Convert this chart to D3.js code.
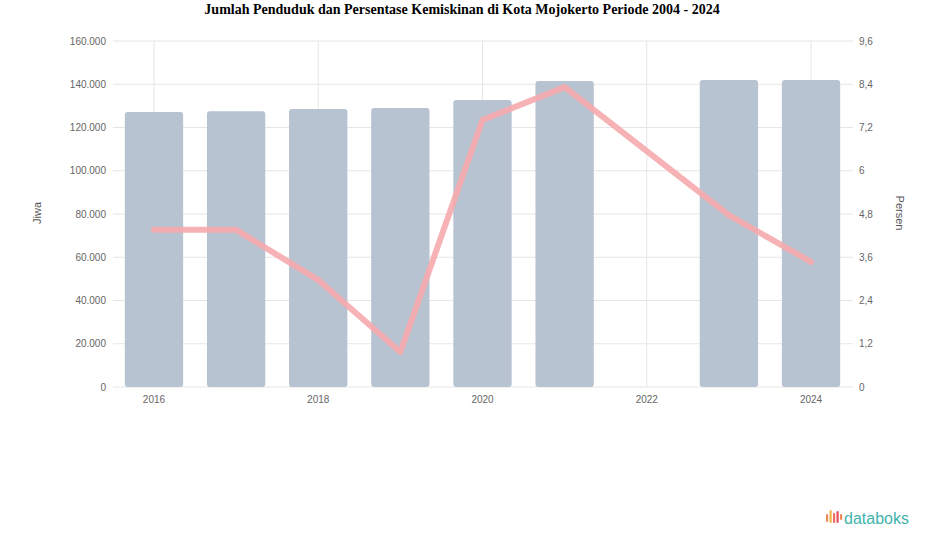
<!DOCTYPE html>
<html><head><meta charset="utf-8">
<script src="https://cdn.jsdelivr.net/npm/d3@7"></script>
<style>body{margin:0;background:#fff}svg{display:block}</style>
</head><body>
<svg id="c" width="925" height="547"></svg>
<script>
const years = ["2016","2017","2018","2019","2020","2021","2022","2023","2024"];
const population = [127200, 127500, 128500, 129000, 132700, 141500, null, 142000, 142000];
const poverty = [4.36, 4.36, 2.97, 0.97, 7.41, 8.32, null, 4.77, 3.47];
const leftTicks = [0,20000,40000,60000,80000,100000,120000,140000,160000];
const rightTicks = [0,1.2,2.4,3.6,4.8,6,7.2,8.4,9.6];
const labeledYears = ["2016","2018","2020","2022","2024"];

const svg = d3.select("#c");
const W=925,H=547;
const gx0=113, gx1=853;
const x = d3.scaleBand().domain(years).range([101, 864]).paddingInner(0.29).paddingOuter(0.29);
const yL = d3.scaleLinear().domain([0,160000]).range([387,41]);
const yR = d3.scaleLinear().domain([0,9.6]).range([387,41]);
const fmtL = d3.formatLocale({decimal:",",thousands:".",grouping:[3],currency:["",""]}).format(",");
const fmtR = v => String(v).replace(".",",");

// horizontal grid
svg.append("g").selectAll("line").data(leftTicks).join("line")
  .attr("x1",gx0).attr("x2",gx1).attr("y1",d=>yL(d)).attr("y2",d=>yL(d))
  .attr("stroke","#e6e6e6").attr("stroke-width",1);
// vertical grid
svg.append("g").selectAll("line").data(labeledYears).join("line")
  .attr("x1",d=>x(d)+x.bandwidth()/2).attr("x2",d=>x(d)+x.bandwidth()/2)
  .attr("y1",41).attr("y2",387).attr("stroke","#e6e6e6");

// bars
svg.append("g").selectAll("rect").data(years.map((y,i)=>({y,v:population[i]})).filter(d=>d.v!=null))
  .join("rect").attr("x",d=>x(d.y)).attr("width",x.bandwidth())
  .attr("y",d=>yL(d.v)).attr("height",d=>yL(0)-yL(d.v)).attr("rx",3)
  .attr("fill","#b7c3d1");

// line
const pts = years.map((y,i)=>({y,v:poverty[i]})).filter(d=>d.v!=null);
svg.append("path").datum(pts)
  .attr("d", d3.line().x(d=>x(d.y)+x.bandwidth()/2).y(d=>yR(d.v)))
  .attr("fill","none").attr("stroke","#f6aaad").attr("stroke-opacity",0.9)
  .attr("stroke-width",6).attr("stroke-linecap","round").attr("stroke-linejoin","round");

// axes
const axL = svg.append("g").attr("transform",`translate(${gx0-3},0)`)
  .call(d3.axisLeft(yL).tickValues(leftTicks).tickFormat(fmtL).tickSize(0).tickPadding(4));
const axR = svg.append("g").attr("transform",`translate(${gx1+2},0)`)
  .call(d3.axisRight(yR).tickValues(rightTicks).tickFormat(fmtR).tickSize(0).tickPadding(4));
const axB = svg.append("g").attr("transform",`translate(0,392)`)
  .call(d3.axisBottom(x).tickValues(labeledYears).tickSize(0).tickPadding(4));
[axL,axR,axB].forEach(a=>{a.select(".domain").remove();
  a.selectAll("text").attr("font-family","Arial, Liberation Sans, sans-serif").attr("font-size",10).attr("fill","#666");});

// axis titles
svg.append("text").attr("transform","translate(41,213) rotate(-90)").attr("text-anchor","middle")
  .attr("font-family","Arial, Liberation Sans, sans-serif").attr("font-size",11).attr("fill","#555").text("Jiwa");
svg.append("text").attr("transform","translate(896,213) rotate(90)").attr("text-anchor","middle")
  .attr("font-family","Arial, Liberation Sans, sans-serif").attr("font-size",11).attr("fill","#555").text("Persen");

// title
svg.append("text").attr("x",462).attr("y",14).attr("text-anchor","middle")
  .attr("font-family","Liberation Serif, Times New Roman, serif").attr("font-weight","bold").attr("font-size",14)
  .attr("fill","#000").text("Jumlah Penduduk dan Persentase Kemiskinan di Kota Mojokerto Periode 2004 - 2024");

// databoks logo
const lg = svg.append("g").attr("transform","translate(826,510)");
const barsLogo=[[0,4,8,"#f08a5d"],[3.5,0,13,"#f2b54a"],[7,3,10,"#ec6f63"],[10.5,1,12,"#e8505b"],[14,4,6,"#f08a5d"]];
lg.selectAll("rect").data(barsLogo).join("rect").attr("x",d=>d[0]).attr("y",d=>d[1]).attr("width",2.2).attr("height",d=>d[2]).attr("rx",1).attr("fill",d=>d[3]);
svg.append("text").attr("x",844).attr("y",524).attr("font-family","Arial, Liberation Sans, sans-serif")
  .attr("font-size",16).attr("fill","#3fb3ac").text("databoks");
</script>
</body></html>
